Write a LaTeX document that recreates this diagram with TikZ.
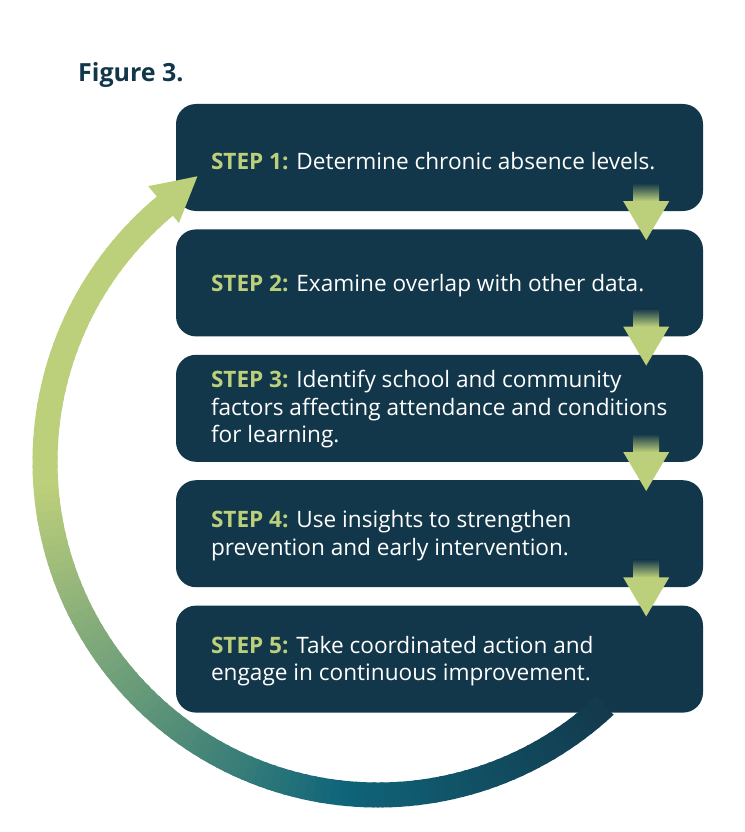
\documentclass[tikz,border=0pt]{standalone}
\usepackage{fontspec}
\setmainfont{Open Sans}
\usetikzlibrary{positioning, calc}

\definecolor{navy}{HTML}{13374A}
\definecolor{leaf}{HTML}{BCCF7A}
\definecolor{teal}{HTML}{0F6479}

\tikzset{
  step box/.style={draw=none, fill=navy, rounded corners=20pt, minimum width=527pt, minimum height=107pt},
  step text/.style={anchor=west, align=left, text=white, font=\fontsize{22.6}{27.5}\selectfont, inner sep=0pt},
}
\newcommand{\stp}[1]{\textbf{\color{leaf}STEP #1:}}

\begin{document}
\begin{tikzpicture}[x=1pt, y=1pt]
	\useasboundingbox (0,0) rectangle (744,-832);
	\node [anchor=base west, inner sep=0pt, text=navy, font=\fontsize{25}{30}\selectfont\bfseries] (fig) at (78,-82) {Figure 3.};

	% steps
	\node [step box] (s1) at (439.5,-157.5) {};
	\node [step box, below=18pt of s1] (s2) {};
	\node [step box, below=18pt of s2] (s3) {};
	\node [step box, below=18pt of s3] (s4) {};
	\node [step box, below=18pt of s4] (s5) {};

	\node [step text] (t1) at ($(s1.west)+(35,-4)$) {\stp{1} Determine chronic absence levels.};
	\node [step text] (t2) at ($(s2.west)+(35,-3)$) {\stp{2} Examine overlap with other data.};
	\node [step text] (t3) at ($(s3.west)+(35,-1)$) {\stp{3} Identify school and community\\factors affecting attendance and conditions\\for learning.};
	\node [step text] (t4) at ($(s4.west)+(35,-2)$) {\stp{4} Use insights to strengthen\\prevention and early intervention.};
	\node [step text] (t5) at ($(s5.west)+(35,-2)$) {\stp{5} Take coordinated action and\\engage in continuous improvement.};

	% small arrows between steps
	\foreach \i/\j in {1/2, 2/3, 3/4, 4/5} {
		\shade [top color=navy, bottom color=leaf] ($(s\i.south east)+(-70,28)$) rectangle ($(s\i.south east)+(-44,10)$);
		\fill [leaf] ($(s\i.south east)+(-80,10)$) -- ($(s\i.south east)+(-34,10)$) -- ($(s\j.north east)+(-57,-11)$) -- cycle;
	}

	% big return arrow
	\coordinate (c) at (378,-462);
	\foreach \a in {-47,-48.5,...,-229} {
		\pgfmathsetmacro\pone{max(0,min(100,(\a+95)/51*100))}
		\pgfmathsetmacro\ptwo{max(0,min(100,(-95-\a)/80*100))}
		\colorlet{segcol}{navy!\pone!teal}
		\draw [line width=25pt, leaf!\ptwo!segcol] ($(c)+(\a:333)$) arc (\a:\a-2:333);
	}
	\fill [leaf] ($(c)+(129.8:311)$) -- ($(c)+(129.8:359)$) -- ($(c)+(122.3:338)$) -- cycle;
\end{tikzpicture}
\end{document}
